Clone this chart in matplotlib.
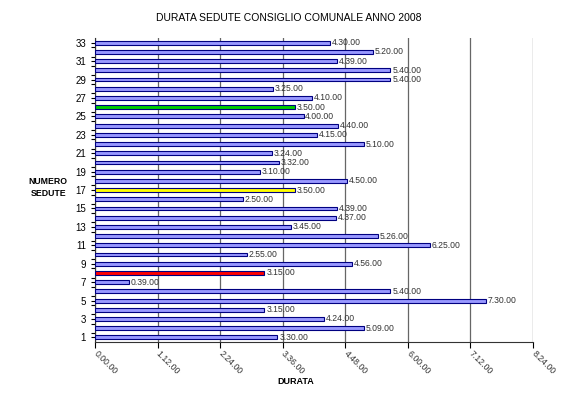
import matplotlib
matplotlib.use('Agg')
from matplotlib import pyplot as plt
import numpy as np

plt.rcParams['font.family'] = ['Liberation Sans', 'DejaVu Sans']

# session number 1..33, duration as "h.mm.00"
sedute = list(range(1, 34))
durate = ['3.30.00', '5.09.00', '4.24.00', '3.15.00', '7.30.00', '5.40.00',
          '0.39.00', '3.15.00', '4.56.00', '2.55.00', '6.25.00', '5.26.00',
          '3.45.00', '4.37.00', '4.39.00', '2.50.00', '3.50.00', '4.50.00',
          '3.10.00', '3.32.00', '3.24.00', '5.10.00', '4.15.00', '4.40.00',
          '4.00.00', '3.50.00', '4.10.00', '3.25.00', '5.40.00', '5.40.00',
          '4.39.00', '5.20.00', '4.30.00']
evidenziate = {8: '#ff0000', 17: '#ffff00', 26: '#00cc00'}
tick_labels = ['0.00.00', '1.12.00', '2.24.00', '3.36.00', '4.48.00',
               '6.00.00', '7.12.00', '8.24.00']

def minuti(s):
    h, m, _ = s.split('.')
    return int(h) * 60 + int(m)

valori = np.array([minuti(d) for d in durate])
colori = [evidenziate.get(n, '#9999ff') for n in sedute]

fig = plt.figure(figsize=(5.67, 3.97), dpi=100)
ax = fig.add_axes([0.1675, 0.1385, 0.7725, 0.7655])

ax.barh(sedute, valori, height=0.42, color=colori, edgecolor='#000080',
        linewidth=0.8, zorder=3)
for n, v, d in zip(sedute, valori, durate):
    ax.text(v + 2, n, d, va='center', ha='left', fontsize=6.2,
            color='#333333', zorder=4)

xt = [minuti(t) for t in tick_labels]
ax.set_xlim(0, xt[-1])
ax.set_ylim(0.5, 33.5)
ax.set_xticks(xt)
ax.set_xticklabels(tick_labels, rotation=-45, ha='left', va='center',
                   rotation_mode='anchor', fontsize=6.3, color='#333333')
ax.set_yticks(sedute[::2])
ax.set_yticklabels([str(n) for n in sedute[::2]], fontsize=7)
ax.set_yticks(np.arange(1.5, 33, 1), minor=True)
ax.tick_params(axis='y', which='both', length=3, width=0.8)
ax.tick_params(axis='x', length=4, width=0.8, pad=3)
ax.xaxis.grid(True, color='#666666', linewidth=0.9, zorder=0)

for s in ['top', 'right']:
    ax.spines[s].set_visible(False)
ax.spines['left'].set_color('#333333')
ax.spines['bottom'].set_color('#333333')

fig.text(0.51, 0.955, 'DURATA SEDUTE CONSIGLIO COMUNALE ANNO 2008',
         ha='center', va='center', fontsize=7.5)
fig.text(0.522, 0.04, 'DURATA', ha='center', va='center', fontsize=6.5,
         fontweight='bold')
fig.text(0.085, 0.528, 'NUMERO\nSEDUTE', ha='center', va='center',
         fontsize=6.3, fontweight='bold', linespacing=1.4)

fig.savefig('out.png', dpi=100)
